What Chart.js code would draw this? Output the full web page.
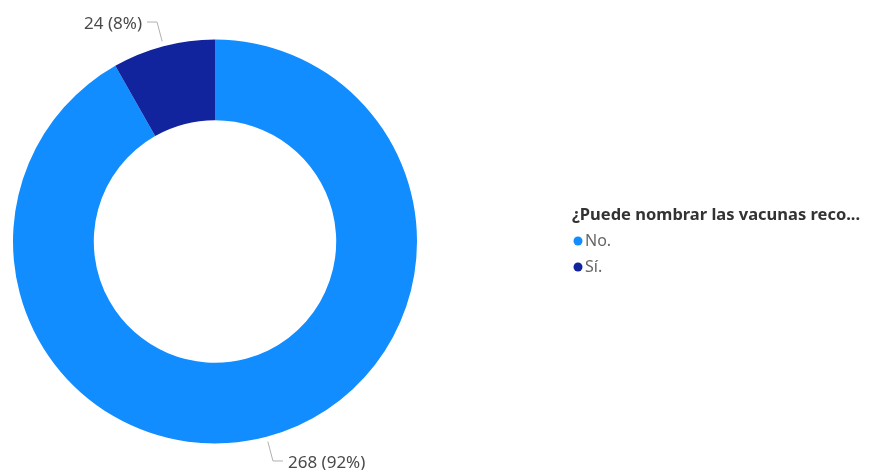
<!DOCTYPE html>
<html>
<head>
<meta charset="utf-8">
<script src="https://cdn.jsdelivr.net/npm/chart.js@4"></script>
<style>
html,body{margin:0;padding:0;background:#fff;}
#wrap{width:877px;height:470px;position:relative;}
</style>
</head>
<body>
<div id="wrap"><canvas id="c" width="877" height="470"></canvas></div>
<script>
const legendTitle = "¿Puede nombrar las vacunas reco...";
const categories = ["No.", "Sí."];
const values = [268, 24];
const colors = ["#118DFF", "#12239E"];
const FONT = "'Noto Sans', 'Open Sans', sans-serif";

const total = values.reduce((a, b) => a + b, 0);

const labelPlugin = {
  id: 'outLabels',
  afterDatasetsDraw(chart) {
    const ctx = chart.ctx;
    const meta = chart.getDatasetMeta(0);
    ctx.save();
    meta.data.forEach((arc, i) => {
      const p = arc.getProps(['x', 'y', 'startAngle', 'endAngle', 'outerRadius'], true);
      const mid = (p.startAngle + p.endAngle) / 2;
      const r0 = p.outerRadius + 5;
      const r1 = p.outerRadius + 25;
      const x0 = p.x + Math.cos(mid) * r0, y0 = p.y + Math.sin(mid) * r0;
      const x1 = p.x + Math.cos(mid) * r1, y1 = p.y + Math.sin(mid) * r1;
      const right = Math.cos(mid) >= 0;
      const x2 = x1 + (right ? 10 : -10);
      ctx.strokeStyle = '#b3b0ad';
      ctx.lineWidth = 1;
      ctx.beginPath();
      ctx.moveTo(x0, y0); ctx.lineTo(x1, y1); ctx.lineTo(x2, y1);
      ctx.stroke();
      const pct = Math.round(values[i] / total * 100);
      const txt = values[i] + ' (' + pct + '%)';
      ctx.font = '17px ' + FONT;
      ctx.fillStyle = '#4a4a4a';
      ctx.textBaseline = 'middle';
      ctx.textAlign = right ? 'left' : 'right';
      ctx.fillText(txt, x2 + (right ? 5 : -5), y1 + 2);
    });
    ctx.restore();
  }
};

const legendPlugin = {
  id: 'customLegend',
  afterDraw(chart) {
    const ctx = chart.ctx;
    ctx.save();
    ctx.textBaseline = 'middle';
    ctx.textAlign = 'left';
    ctx.font = 'bold 16.5px ' + FONT;
    ctx.fillStyle = '#333333';
    ctx.fillText(legendTitle, 572, 215);
    ctx.font = '16px ' + FONT;
    chart.data.labels.forEach((lab, i) => {
      const y = 241 + i * 26;
      ctx.fillStyle = chart.data.datasets[0].backgroundColor[i];
      ctx.beginPath();
      ctx.arc(578, y, 4.5, 0, Math.PI * 2);
      ctx.fill();
      ctx.fillStyle = '#666666';
      ctx.fillText(lab, 585, y);
    });
    ctx.restore();
  }
};

new Chart(document.getElementById('c'), {
  type: 'doughnut',
  data: {
    labels: categories,
    datasets: [{
      data: values,
      backgroundColor: colors,
      borderWidth: 0
    }]
  },
  options: {
    responsive: false,
    animation: false,
    cutout: '60%',
    layout: { padding: { left: 13, right: 460, top: 39, bottom: 26 } },
    plugins: { legend: { display: false }, tooltip: { enabled: false } }
  },
  plugins: [labelPlugin, legendPlugin]
});
</script>
</body>
</html>
